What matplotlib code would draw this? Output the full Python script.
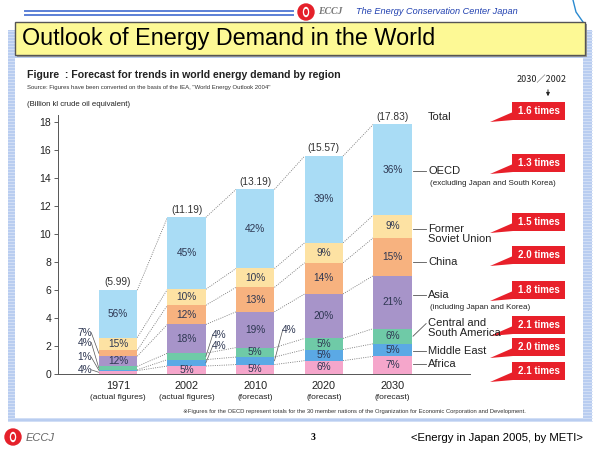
import matplotlib
matplotlib.use('Agg')
import matplotlib.pyplot as plt
import numpy as np
from matplotlib.patches import Rectangle, Circle, Ellipse, Polygon

YEARS = ['1971', '2002', '2010', '2020', '2030']
YEAR_NOTES = ['(actual figures)', '(actual figures)', '(forecast)', '(forecast)', '(forecast)']
TOTALS = [5.99, 11.19, 13.19, 15.57, 17.83]

# shares in percent, stacked bottom to top
REGIONS = ['Africa', 'Middle East', 'Central and\nSouth America', 'Asia',
           'China', 'Former\nSoviet Union', 'OECD']
AFRICA = [4, 5, 5, 6, 7]
MIDDLE_EAST = [1, 4, 4, 5, 5]
CENTRAL_SOUTH_AMERICA = [4, 4, 5, 5, 6]
ASIA = [12, 18, 19, 20, 21]
CHINA = [7, 12, 13, 14, 15]
FORMER_SOVIET_UNION = [15, 10, 10, 9, 9]
OECD = [56, 45, 42, 39, 36]

REGION_NOTES = {3: '(including Japan and Korea)', 6: '(excluding Japan and South Korea)'}
GROWTH = ['2.1', '2.0', '2.1', '1.8', '2.0', '1.5', '1.3']
TOTAL_GROWTH = '1.6'

COLORS = ['#f5a6cb', '#5ba9e5', '#6fcaa7', '#a794c9', '#f7b27f', '#fde2a3', '#a9dcf5']
TEXT_COLOR = '#2e3752'
FONT = ['Liberation Sans', 'DejaVu Sans']

# small segments labelled outside: (bar, segment) -> (x offset, label y, align)
OUTSIDE = {(0, 0): (-0.38, 0.3, 'right'), (0, 1): (-0.38, 1.2, 'right'),
           (0, 2): (-0.38, 2.25, 'right'), (0, 4): (-0.38, 2.95, 'right'),
           (1, 1): (0.37, 2.0, 'left'), (1, 2): (0.37, 2.8, 'left'),
           (2, 1): (0.39, 3.15, 'left')}
# right side legend text y, and leader end y
LABEL_Y = [0.7, 1.65, 3.3, 5.65, 8.0, 10.0, 14.5]
LEADER_Y = [0.7, 1.65, 3.6, 5.65, 8.0, 10.35, 14.5]
# red callouts, pixel centre y
CALLOUT_Y = [371, 347, 325, 290, 255, 222, 163]
TOTAL_CALLOUT_Y = 111


def draw_background(fig):
    bg = fig.add_axes([0, 0, 1, 1])
    bg.set_xlim(0, 600)
    bg.set_ylim(450, 0)
    bg.axis('off')

    bg.add_patch(Rectangle((8, 30), 584, 392, color='#b9cdf0', lw=0, zorder=0.2))
    for y in np.arange(31, 422, 3):
        bg.plot([8, 592], [y, y], color='#d6e2f7', lw=0.6, zorder=0.3)
    bg.add_patch(Rectangle((15, 58), 568, 360, color='white', lw=0, zorder=0.5))

    # header lines and logo
    bg.plot([25, 293], [11, 11], color='#5b7fd6', lw=1.4)
    bg.plot([25, 293], [14.5, 14.5], color='#5b7fd6', lw=1.4)
    for cx, cy in [(306, 12), (13, 437)]:
        bg.add_patch(Circle((cx, cy), 8, color='#e5202a', zorder=3))
        bg.add_patch(Ellipse((cx, cy), 5, 9, color='white', zorder=3))
        bg.add_patch(Ellipse((cx, cy), 2.5, 5, color='#e5202a', zorder=3))
    bg.text(318, 12, 'ECCJ', fontsize=7, fontweight='bold', style='italic',
            family=['Liberation Serif'], color='#777777', va='center')
    bg.text(356, 12, 'The Energy Conservation Center Japan', fontsize=6.6,
            style='italic', family=FONT, color='#2040b0', va='center')
    bg.plot([573, 576, 583], [0, 12, 22], color='#2a8ad0', lw=1)

    # title box
    bg.add_patch(Rectangle((17, 24), 570, 33, color='#9a9a9a', lw=0, zorder=3))
    bg.add_patch(Rectangle((15, 22), 570, 33, fc='#fdf995', ec='#555555', lw=1, zorder=3))
    bg.text(22, 39, 'Outlook of Energy Demand in the World', fontsize=16.8,
            family=FONT, color='black', va='center', zorder=4)

    bg.text(27, 75, 'Figure  : Forecast for trends in world energy demand by region',
            fontsize=7.6, fontweight='bold', family=FONT, color='#222222', va='center')
    bg.text(27, 88, 'Source: Figures have been converted on the basis of the IEA, '
            '"World Energy Outlook 2004"', fontsize=4.3, family=FONT,
            color='#333333', va='center')
    bg.text(27, 104, '(Billion kl crude oil equivalent)', fontsize=5.6,
            family=FONT, color='#222222', va='center')
    bg.text(183, 411, '\u203bFigures for the OECD represent totals for the 30 member '
            'nations of the Organization for Economic Corporation and Development.',
            fontsize=4.2, family=FONT, color='#333333', va='center')

    bg.text(542, 80, '2030\uff0f2002', fontsize=6.5, family=['Noto Sans CJK JP', 'DejaVu Sans'],
            color='#222222', ha='center', va='center')
    bg.annotate('', xy=(548, 99), xytext=(548, 87),
                arrowprops=dict(arrowstyle='-|>', color='#222222', lw=0.7,
                                mutation_scale=5))

    # red callouts
    labels = GROWTH + [TOTAL_GROWTH]
    for lab, cy in zip(labels, CALLOUT_Y + [TOTAL_CALLOUT_Y]):
        bg.add_patch(Polygon([(513, cy + 1), (490, cy + 11), (513, cy + 9)],
                             color='#e8202a', lw=0, zorder=3))
        bg.add_patch(Rectangle((512, cy - 9), 53, 18, color='#e8202a', lw=0, zorder=3))
        bg.text(538.5, cy, lab + ' times', fontsize=7, fontweight='bold',
                family=FONT, color='white', ha='center', va='center', zorder=4)

    bg.text(313, 438, '3', fontsize=7, fontweight='bold', family=['Liberation Serif'],
            color='black', ha='center', va='center')
    bg.text(26, 438, 'ECCJ', fontsize=8, style='italic', family=FONT,
            color='#666666', va='center')
    bg.text(583, 438, '<Energy in Japan 2005, by METI>', fontsize=8.2,
            family=FONT, color='black', ha='right', va='center')


def plot_demand(fig):
    shares = np.array([AFRICA, MIDDLE_EAST, CENTRAL_SOUTH_AMERICA, ASIA, CHINA,
                       FORMER_SOVIET_UNION, OECD], dtype=float)
    totals = np.array(TOTALS)
    heights = shares / shares.sum(axis=0) * totals
    tops = np.cumsum(heights, axis=0)
    bottoms = tops - heights

    ax = fig.add_axes([58 / 600, 76 / 450, 412 / 600, 259 / 450])
    ax.patch.set_alpha(0)
    x = np.arange(len(YEARS))
    width = 0.56

    for k in range(len(REGIONS)):
        ax.bar(x, heights[k], width, bottom=bottoms[k], color=COLORS[k], lw=0, zorder=2)

    # dotted connectors between segment tops
    for k in range(len(REGIONS)):
        for i in range(len(YEARS) - 1):
            ax.plot([x[i] + width / 2, x[i + 1] - width / 2], [tops[k, i], tops[k, i + 1]],
                    color='#777777', ls=(0, (1.2, 1.5)), lw=0.6, zorder=1)

    for i in range(len(YEARS)):
        for k in range(len(REGIONS)):
            mid = bottoms[k, i] + heights[k, i] / 2
            txt = '%d%%' % shares[k, i]
            if (i, k) in OUTSIDE:
                dx, ly, ha = OUTSIDE[(i, k)]
                edge = -width / 2 if ha == 'right' else width / 2
                ax.plot([x[i] + edge, x[i] + dx + (0.01 if ha == 'left' else -0.01)],
                        [mid, ly], color='#555555', lw=0.5, zorder=3)
                ax.text(x[i] + dx, ly, txt, fontsize=7.3, family=FONT,
                        color=TEXT_COLOR, ha=ha, va='center', zorder=3)
            else:
                ax.text(x[i], mid, txt, fontsize=7.3, family=FONT, color=TEXT_COLOR,
                        ha='center', va='center', zorder=3)
        ax.text(x[i], totals[i] + 0.55, '(%.2f)' % totals[i], fontsize=7.3,
                family=FONT, color='#333333', ha='center', va='center')
        ax.text(x[i], -0.86, YEARS[i], fontsize=7.8, family=FONT, color='#222222',
                ha='center', va='center', clip_on=False)
        ax.text(x[i], -1.66, YEAR_NOTES[i], fontsize=6, family=FONT, color='#222222',
                ha='center', va='center', clip_on=False)

    # right side legend on the 2030 bar
    last = x[-1]
    tx = last + 0.52
    for k, name in enumerate(REGIONS):
        mid = bottoms[k, -1] + heights[k, -1] / 2
        start_y = mid if k == 2 else LEADER_Y[k]
        ax.plot([last + width / 2 + 0.02, tx - 0.03], [start_y, LEADER_Y[k]],
                color='#555555', lw=0.6, clip_on=False)
        ax.text(tx, LABEL_Y[k], name, fontsize=8, family=FONT, color='#222222',
                ha='left', va='center', linespacing=1.0, clip_on=False)
        if k in REGION_NOTES:
            ax.text(tx + 0.03, LABEL_Y[k] - 0.92, REGION_NOTES[k], fontsize=5.8,
                    family=FONT, color='#222222', ha='left', va='center', clip_on=False)
    ax.text(tx, totals[-1] + 0.55, 'Total', fontsize=8, family=FONT, color='#222222',
            ha='left', va='center', clip_on=False)

    ax.set_xlim(-0.875, 5.13)
    ax.set_ylim(0, 18.5)
    ax.set_yticks(range(0, 19, 2))
    ax.set_xticks([])
    ax.tick_params(axis='y', length=3, width=0.6, color='#444444', labelsize=7.5,
                   pad=2, labelcolor='#222222')
    for lab in ax.get_yticklabels():
        lab.set_family(FONT)
    ax.spines['top'].set_visible(False)
    ax.spines['right'].set_visible(False)
    ax.spines['left'].set_color('#555555')
    ax.spines['bottom'].set_color('#555555')
    ax.spines['left'].set_linewidth(0.7)
    ax.spines['bottom'].set_linewidth(0.7)


def script_main() -> None:
    fig = plt.figure(figsize=(6, 4.5), dpi=100)
    draw_background(fig)
    plot_demand(fig)
    fig.savefig('out.png', dpi=100)


if __name__ == "__main__":
    script_main()
